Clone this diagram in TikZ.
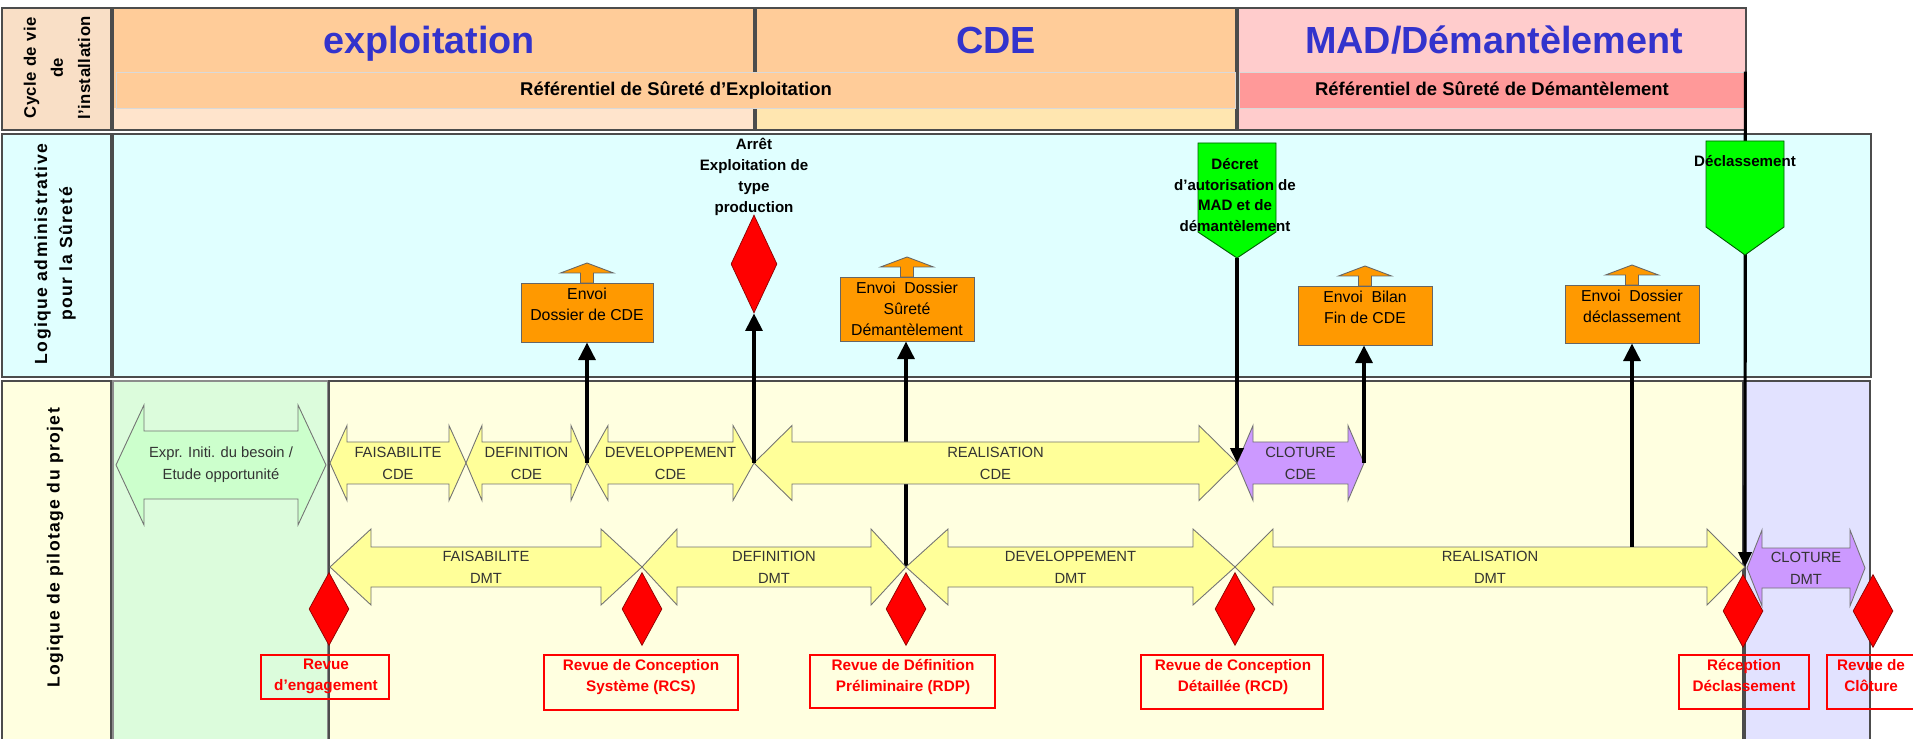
\documentclass[tikz,border=0pt]{standalone}
\usepackage{fontspec}
\setmainfont{Liberation Sans}
\usetikzlibrary{arrows.meta,shapes.geometric,fit,positioning}

\definecolor{peach}{HTML}{FFCC99}
\definecolor{peachlight}{HTML}{FFE4CC}
\definecolor{cdelight}{HTML}{FFE6B0}
\definecolor{pinkhead}{HTML}{FFCCCC}
\definecolor{salmon}{HTML}{FF9999}
\definecolor{cyclefill}{HTML}{F9DFC6}
\definecolor{adminfill}{HTML}{E0FFFF}
\definecolor{pilotfill}{HTML}{FFFFE0}
\definecolor{expfill}{HTML}{DCFCDC}
\definecolor{madfill}{HTML}{E2E2FF}
\definecolor{phaseyellow}{HTML}{FFFF99}
\definecolor{phasegreen}{HTML}{CCFFCC}
\definecolor{phasepurple}{HTML}{CC99FF}
\definecolor{envoiorange}{HTML}{FF9900}
\definecolor{decretgreen}{HTML}{00FF00}
\definecolor{titleblue}{HTML}{3333CC}

% double block arrow of a phase: name, x from, x to, y, half head, half shaft, head length, fill, text
\newcommand{\phasearrow}[9]{%
  \path[phase=#8] (#2,#4) -- ({#2+#7},{#4-#5}) -- ({#2+#7},{#4-#6}) -- ({#3-#7},{#4-#6})
    -- ({#3-#7},{#4-#5}) -- (#3,#4) -- ({#3-#7},{#4+#5}) -- ({#3-#7},{#4+#6})
    -- ({#2+#7},{#4+#6}) -- ({#2+#7},{#4+#5}) -- cycle;
  \coordinate (#1-w) at (#2,#4);
  \coordinate (#1-e) at (#3,#4);
  \node[phasetext] (#1) at ({(#2+#3)/2},#4) {#9};
}

% orange box with its small up arrow: name, x1, y1, x2, y2, text
\newcommand{\envoibox}[6]{%
  \path[envoi] ({(#2+#4)/2-6.5},#3) -- ({(#2+#4)/2-6.5},{#3-10}) -- ({(#2+#4)/2-26.5},{#3-10})
    -- ({(#2+#4)/2},{#3-20}) -- ({(#2+#4)/2+26.5},{#3-10}) -- ({(#2+#4)/2+6.5},{#3-10})
    -- ({(#2+#4)/2+6.5},#3) -- cycle;
  \node[envoi, fit={(#2,#3) (#4,#5)}] (#1) {};
  \node[envoitext] (#1-txt) at ({(#2+#4)/2},{#3+4.5}) {#6};
}

\begin{document}
\begin{tikzpicture}[x=0.02cm, y=-0.02cm,
  cell/.style={draw=black!70, line width=0.6pt, inner sep=0pt},
  refband/.style={draw=black!15, line width=0.4pt, inner sep=0pt},
  titletext/.style={text=titleblue, font=\bfseries\fontsize{21.5}{24}\selectfont, anchor=base},
  reftext/.style={font=\bfseries\fontsize{10.5}{12}\selectfont, anchor=base},
  rowlabel/.style={rotate=90, align=center, inner sep=0pt,
    font=\bfseries\fontsize{10}{#1}\selectfont\addfontfeature{LetterSpace=8}},
  cyclelabel/.style={rotate=90, align=center, inner sep=0pt,
    font=\bfseries\fontsize{9.5}{15.4}\selectfont\addfontfeature{LetterSpace=3}},
  phase/.style={draw=black!55, line width=0.5pt, fill=#1},
  phasetext/.style={align=center, text=black!80, font=\fontsize{8.4}{12.5}\selectfont, inner sep=0pt},
  envoi/.style={fill=envoiorange, draw=black!60, line width=0.5pt, inner sep=0pt},
  envoitext/.style={align=center, font=\fontsize{9}{12}\selectfont, inner sep=0pt, anchor=north},
  admintext/.style={align=center, font=\bfseries\fontsize{8.6}{11.8}\selectfont, inner sep=0pt},
  decret/.style={fill=decretgreen, draw=green!35!black, line width=0.5pt},
  milestone/.style={diamond, fill=red, draw=red!55!black, line width=0.4pt, inner sep=0pt,
    minimum width=0.8cm, minimum height=1.46cm},
  rvbox/.style={draw=red, line width=1.1pt, inner sep=0pt},
  rvtext/.style={align=center, text=red, font=\bfseries\fontsize{8.7}{12}\selectfont, inner sep=0pt, anchor=north},
  link/.style={line width=2.2pt, -{Triangle[length=10pt,width=9.5pt]}},
  linkdown/.style={line width=1.8pt, -{Triangle[length=8.5pt,width=7.5pt]}}]
\useasboundingbox (0,0) rectangle (1913,739);

% life cycle header
\node[cell, fill=cyclefill, fit={(2,8) (111,130)}] (cyclebox) {};
\node[cyclelabel] (cyclelab) at (57,68) {Cycle de vie\\de\\l'installation};
\node[cell, fill=peach, fit={(113,8) (754,130)}] (exphead) {};
\node[cell, fill=peach, fit={(756,8) (1236,130)}] (cdehead) {};
\node[cell, fill=pinkhead, fit={(1238,8) (1746,130)}] (madhead) {};
\fill[peachlight] (114,108) rectangle (753,129.4);
\fill[cdelight] (757,108) rectangle (1235,129.4);
\node[refband, fill=peach, fit={(116,72) (1235,108)}] (expref) {};
\node[refband, fill=salmon, fit={(1239,72) (1745,108)}] (madref) {};
\node[titletext] (exptitle) at (429,54) {exploitation};
\node[titletext] (cdetitle) at (996,54) {CDE};
\node[titletext] (madtitle) at (1494,54) {MAD/Démantèlement};
\node[reftext] (expreftxt) at (676,96) {Référentiel de Sûreté d'Exploitation};
\node[reftext] (madreftxt) at (1492,96) {Référentiel de Sûreté de Démantèlement};

% rows
\node[cell, fill=adminfill, fit={(2,134) (111,377)}] (adminbox) {};
\node[rowlabel=14.2] (adminlab) at (55,254) {Logique administrative\\pour la Sûreté};
\node[cell, fill=adminfill, fit={(113,134) (1871,377)}] (adminrow) {};
\node[cell, fill=pilotfill, fit={(2,381) (111,745)}] (pilotbox) {};
\node[rowlabel=14.2] (pilotlab) at (55,548) {Logique de pilotage du projet};
\node[cell, draw=black!45, fill=expfill, fit={(113,381) (328,745)}] (exparea) {};
\node[cell, fill=pilotfill, fit={(329,381) (1743,745)}] (cdearea) {};
\node[cell, fill=madfill, fit={(1745,381) (1870,745)}] (madarea) {};

% safety files sent
\envoibox{envoi1}{521}{283}{653}{342}{Envoi\\Dossier de CDE}
\envoibox{envoi2}{840}{277}{974}{341}{Envoi~~Dossier\\Sûreté\\Démantèlement}
\envoibox{envoi3}{1298}{286}{1432}{345}{Envoi~~Bilan\\Fin de CDE}
\envoibox{envoi4}{1565}{285}{1699}{343}{Envoi~~Dossier\\déclassement}

% this one passes behind the CDE row
\coordinate (rdp) at (906,567);
\draw[link] (rdp) -- (rdp |- envoi2.south);

% phases
\phasearrow{expr}{116}{326}{465}{60}{34}{28}{phasegreen}{Expr. Initi. du besoin /\\Etude opportunité}
\phasearrow{cde1}{330}{466}{463}{37.5}{21}{17}{phaseyellow}{FAISABILITE\\CDE}
\phasearrow{cde2}{466}{587}{463}{37.5}{21}{16}{phaseyellow}{DEFINITION\\CDE}
\phasearrow{cde3}{587}{754}{463}{37.5}{21}{21}{phaseyellow}{DEVELOPPEMENT\\CDE}
\phasearrow{cde4}{754}{1237}{463}{37.5}{21}{38}{phaseyellow}{REALISATION\\CDE}
\phasearrow{cde5}{1237}{1364}{463}{37.5}{21}{16}{phasepurple}{CLOTURE\\CDE}
\phasearrow{dmt1}{330}{642}{567}{38}{20}{41}{phaseyellow}{FAISABILITE\\DMT}
\phasearrow{dmt2}{642}{906}{567}{38}{20}{35}{phaseyellow}{DEFINITION\\DMT}
\phasearrow{dmt3}{906}{1235}{567}{38}{20}{42}{phaseyellow}{DEVELOPPEMENT\\DMT}
\phasearrow{dmt4}{1235}{1745}{567}{38}{20}{38}{phaseyellow}{REALISATION\\DMT}
\phasearrow{dmt5}{1747}{1865}{568}{38}{20}{15}{phasepurple}{CLOTURE\\DMT}

% administrative steps
\draw[link] (cde2-e) -- (cde2-e |- envoi1.south);
\node[milestone, minimum width=0.92cm, minimum height=1.96cm] (arret) at (754,264) {};
\node[admintext] (arrettxt) at (754,177) {Arrêt\\Exploitation de\\type\\production};
\draw[link] (cde3-e) -- (arret.south);
\draw[link] (cde5-e) -- (cde5-e |- envoi3.south);
\coordinate (dmt4-top) at (1632,547);
\draw[link] (dmt4-top) -- (dmt4-top |- envoi4.south);

\path[decret] (1198,143) -- (1276,143) -- (1276,232) -- (1237,258) -- (1198,232) -- cycle;
\coordinate (decret-tip) at (1237,258);
\node[admintext] (decrettxt) at (1235,195) {Décret\\d'autorisation de\\MAD et de\\démantèlement};
\draw[linkdown] (decret-tip) -- (cde5-w);

\draw[linkdown] (madref.north east) -- (dmt4-e);
\path[decret] (1706,141) -- (1784,141) -- (1784,227) -- (1745,255) -- (1706,227) -- cycle;
\node[admintext] (declasstxt) at (1745,161) {Déclassement};

% project reviews
\node[milestone] (m1) at (329,609) {};
\node[milestone] (m2) at (642,609) {};
\node[milestone] (m3) at (906,609) {};
\node[milestone] (m4) at (1235,609) {};
\node[milestone] (m5) at (1743,611) {};
\node[milestone] (m6) at (1873,611) {};

\node[rvbox, fit={(261,655) (389,699)}] (rv1) {};
\node[rvtext] (rv1-txt) at (326,659) {Revue\\d'engagement};
\node[rvbox, fit={(544,655) (738,710)}] (rv2) {};
\node[rvtext] (rv2-txt) at (641,659) {Revue de Conception\\Système (RCS)};
\node[rvbox, fit={(810,655) (995,708)}] (rv3) {};
\node[rvtext] (rv3-txt) at (903,659) {Revue de Définition\\Préliminaire (RDP)};
\node[rvbox, fit={(1141,655) (1323,709)}] (rv4) {};
\node[rvtext] (rv4-txt) at (1233,659) {Revue de Conception\\Détaillée (RCD)};
\node[rvbox, fit={(1679,655) (1809,709)}] (rv5) {};
\node[rvtext] (rv5-txt) at (1744,659) {Réception\\Déclassement};
\node[rvbox, fit={(1827,655) (1918,709)}] (rv6) {};
\node[rvtext] (rv6-txt) at (1871,659) {Revue de\\Clôture};
\end{tikzpicture}
\end{document}
